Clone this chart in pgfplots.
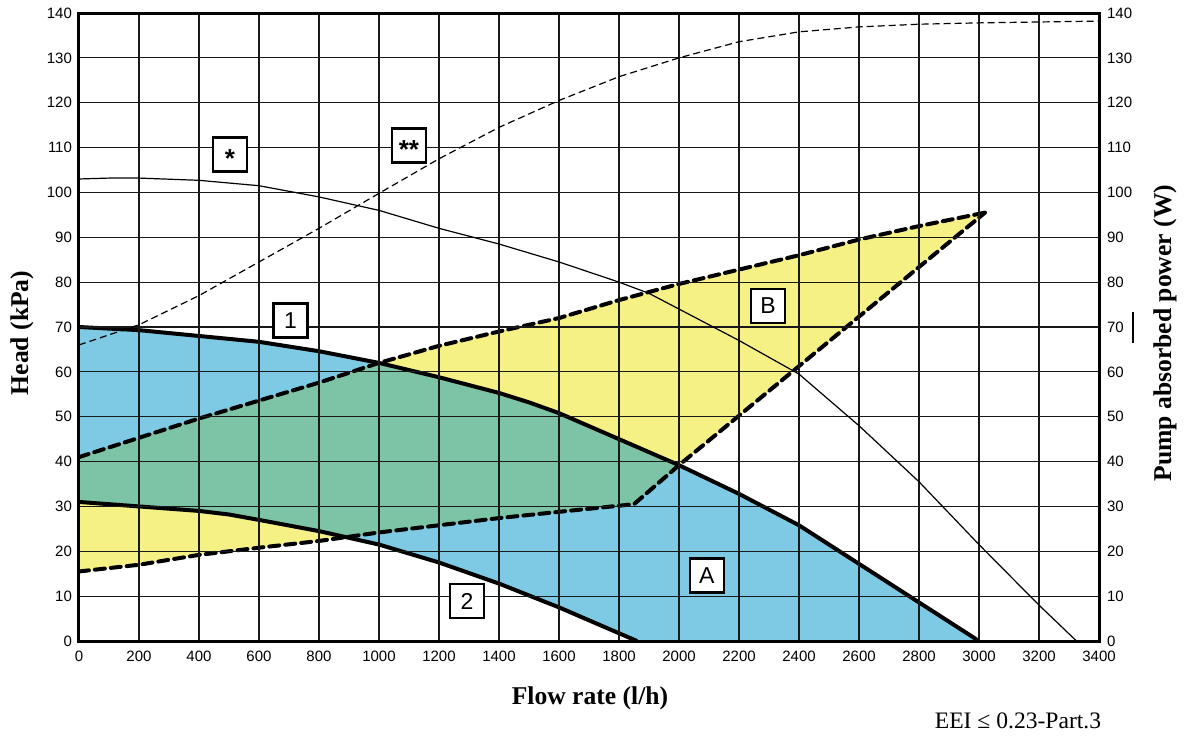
\documentclass[border=0pt]{standalone}
\usepackage{fontspec}
\setmainfont{Liberation Serif}
\setsansfont{Liberation Sans}
\usepackage{pgfplots}
\pgfplotsset{compat=1.18}
\usepackage{pgfplotstable}

\definecolor{regA}{RGB}{126,202,228}
\definecolor{regB}{RGB}{246,241,133}
\definecolor{regAB}{RGB}{125,196,166}

% Curve 1 (upper limit of zone A)
\pgfplotstableread{
x y
0 70
200 69.3
400 68
600 66.7
800 64.6
1000 62
1200 58.8
1400 55.3
1500 53.2
1600 50.8
1800 45
2000 39.2
2200 32.8
2400 25.8
2600 17.2
2800 8.6
3000 0
}\curveone

% Curve 2 (lower limit of zone A)
\pgfplotstableread{
x y
0 31
200 30
400 29
500 28.2
600 27
800 24.5
1000 21.5
1200 17.5
1400 12.8
1600 7.5
1860 0
}\curvetwo

% Zone B upper dashed boundary
\pgfplotstableread{
x y
0 41
200 45.3
400 49.6
600 53.6
800 57.6
1000 62
1200 65.8
1400 69
1600 72
1800 76
2000 79.6
2200 82.8
2400 86
2600 89.5
2800 92.5
3020 95.5
}\bupper

% Zone B lower dashed boundary
\pgfplotstableread{
x y
0 15.5
200 17
400 19.2
600 20.8
800 22.3
1000 24.2
1200 25.8
1400 27.4
1600 28.8
1850 30.5
2000 39.2
3020 95.5
}\blower

% Head curve (*)
\pgfplotstableread{
x y
0 103
100 103.2
200 103.2
400 102.7
600 101.5
800 99
1000 96
1200 92
1400 88.5
1600 84.5
1800 80
1900 77.5
2000 74
2200 67
2400 59.5
2600 48
2800 35.5
3000 21.5
3200 8
3325 0
}\headcurve

% Power curve (**)
\pgfplotstableread{
x y
0 66
200 70.5
400 77
600 84.5
800 92
1000 99.8
1200 107.5
1400 114.5
1600 120.5
1800 125.8
2000 130
2200 133.6
2400 135.8
2600 136.9
2800 137.5
3000 137.8
3400 138.2
}\powercurve

\pgfplotsset{
  base/.style={
    at={(0pt,0pt)}, anchor=south west,
    scale only axis, width=510pt, height=314pt,
    xmin=0, xmax=3400, ymin=0, ymax=140,
    xtick={0,200,...,3400}, ytick={0,10,...,140},
    tick style={draw=none}, major tick length=0pt,
    ticklabel style={font=\sffamily\fontsize{7.5}{9}\selectfont},
    /pgf/number format/assume math mode=true,
    /pgf/number format/1000 sep={},
    scaled x ticks=false, scaled y ticks=false,
    axis line style={line width=1.5pt},
  },
}
\tikzset{
  boxlab/.style={draw, line width=1.3pt, fill=white, minimum width=17pt,
    minimum height=17pt, inner sep=1pt, font=\sffamily\fontsize{11.5}{12}\selectfont},
}
\newcommand{\astlab}[1]{\vphantom{1}\smash{\raisebox{-0.21em}{\bfseries\fontsize{13}{14}\selectfont #1}}}

\begin{document}
\begin{tikzpicture}
\path (-39.5pt,-47.5pt) rectangle (552.5pt,320.5pt);
\begin{axis}[base, axis on top,
  grid=major, grid style={black!90, line width=0.6pt},
  xticklabel style={yshift=-1.5pt}]
% zone B (yellow)
\addplot[fill=regB, draw=none] coordinates {
 (0,15.5) (200,17) (400,19.2) (600,20.8) (800,22.3) (1000,24.2) (1200,25.8)
 (1400,27.4) (1600,28.8) (1850,30.5) (2000,39.2) (3020,95.5)
 (2800,92.5) (2600,89.5) (2400,86) (2200,82.8) (2000,79.6) (1800,76) (1600,72)
 (1400,69) (1200,65.8) (1000,62) (800,57.6) (600,53.6) (400,49.6) (200,45.3) (0,41)} -- cycle;
% zone A (blue)
\addplot[fill=regA, draw=none] coordinates {
 (0,70) (200,69.3) (400,68) (600,66.7) (800,64.6) (1000,62) (1200,58.8) (1400,55.3)
 (1500,53.2) (1600,50.8) (1800,45) (2000,39.2) (2200,32.8) (2400,25.8) (2600,17.2)
 (2800,8.6) (3000,0) (1860,0) (1600,7.5) (1400,12.8) (1200,17.5) (1000,21.5)
 (800,24.5) (600,27) (500,28.2) (400,29) (200,30) (0,31)} -- cycle;
% overlap A and B (green)
\addplot[fill=regAB, draw=none] coordinates {
 (0,41) (200,45.3) (400,49.6) (600,53.6) (800,57.6) (1000,62)
 (1200,58.8) (1400,55.3) (1500,53.2) (1600,50.8) (1800,45) (2000,39.2)
 (1850,30.5) (1600,28.8) (1400,27.4) (1200,25.8) (1000,24.2) (890,23.15)
 (800,24.5) (600,27) (500,28.2) (400,29) (200,30) (0,31)} -- cycle;
% boundaries
\addplot[black, line width=2pt, line join=round] table[x=x,y=y] {\curveone};
\addplot[black, line width=2pt, line join=round] table[x=x,y=y] {\curvetwo};
\addplot[black, line width=2pt, line join=round, line cap=round,
  dash pattern=on 5pt off 3pt] table[x=x,y=y] {\bupper};
\addplot[black, line width=2pt, line join=round, line cap=round,
  dash pattern=on 5pt off 3pt] table[x=x,y=y] {\blower};
\end{axis}
\begin{axis}[base, hide x axis, axis y line*=right,
  yticklabel style={xshift=0.5pt}]
\addplot[black, line width=0.6pt] table[x=x,y=y] {\headcurve};
\addplot[black, line width=0.6pt, dash pattern=on 3.5pt off 2pt] table[x=x,y=y] {\powercurve};
\node[boxlab] at (axis cs:503,108.4) {\astlab{*}};
\node[boxlab] at (axis cs:1100,110.4) {\astlab{**}};
\node[boxlab] at (axis cs:705,71.5) {1};
\node[boxlab] at (axis cs:1293,8.9) {2};
\node[boxlab] at (axis cs:2093,14.6) {A};
\node[boxlab] at (axis cs:2297,74.7) {B};
\end{axis}
\node[font=\bfseries\fontsize{12.8}{14}\selectfont] at (255.5pt,-28.5pt) {Flow rate (l/h)};
\node[font=\bfseries\fontsize{12.8}{14}\selectfont, rotate=90] at (-28.5pt,154pt) {Head (kPa)};
\node[font=\bfseries\fontsize{12.8}{14}\selectfont, rotate=90] at (543pt,154pt) {Pump absorbed power (W)};
\draw[line width=1pt] (527pt,149pt) -- (527pt,164.5pt);
\node[font=\fontsize{11.8}{13}\selectfont] at (469.5pt,-40pt) {EEI ≤ 0.23-Part.3};
\end{tikzpicture}
\end{document}
